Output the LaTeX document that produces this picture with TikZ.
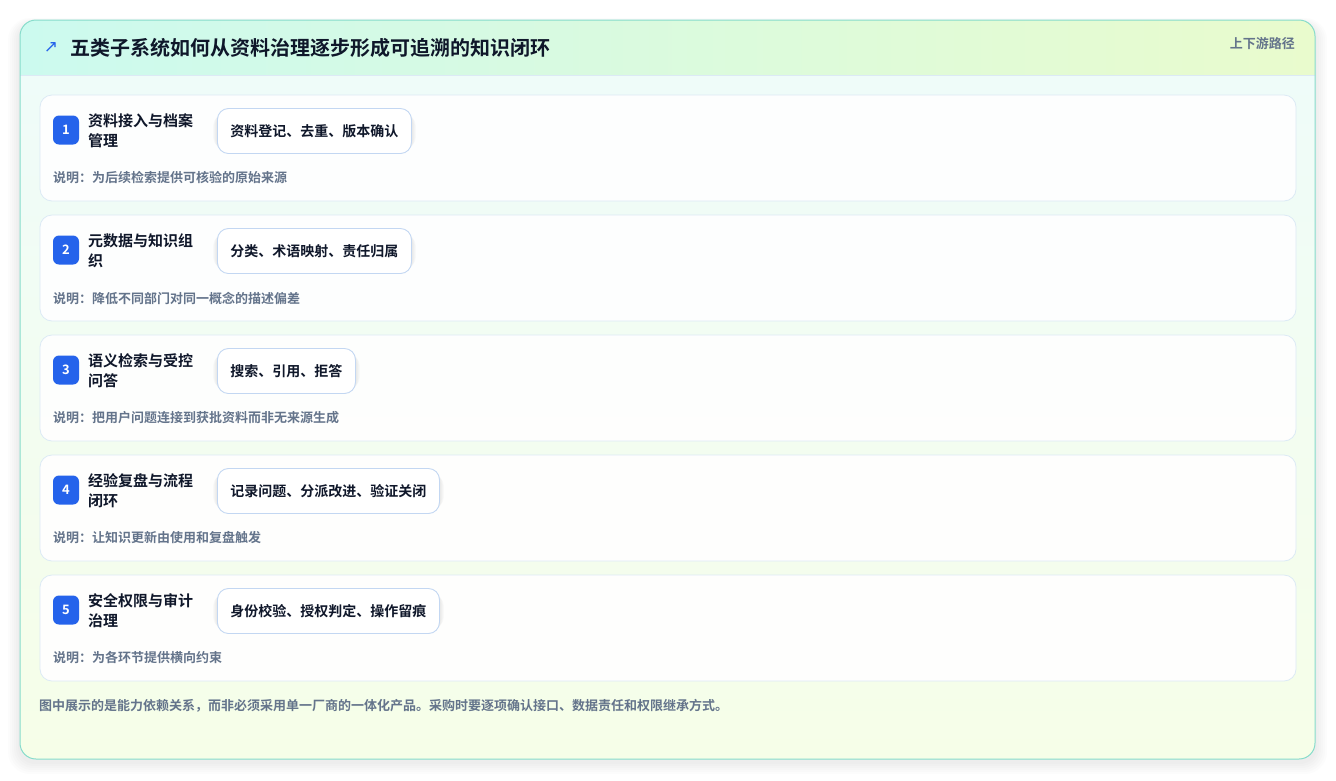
\documentclass[tikz,border=0pt]{standalone}
\usepackage{fontspec}
\setmainfont{Noto Sans CJK SC}[BoldFont={Noto Sans CJK SC Bold}]
\newfontfamily\djv{DejaVu Sans}
\definecolor{outerb}{HTML}{86DCCB}
\definecolor{hdrL}{HTML}{CCFAEF}
\definecolor{hdrR}{HTML}{E9FBCD}
\definecolor{bodyT}{HTML}{EFFCF9}
\definecolor{bodyB}{HTML}{F6FEE8}
\definecolor{rowb}{HTML}{DCEAF5}
\definecolor{chipb}{HTML}{C3D7F2}
\definecolor{badge}{HTML}{2563EB}
\definecolor{ink}{HTML}{0F172A}
\definecolor{muted}{HTML}{64748B}
\tikzset{
  rowcard/.style={draw=rowb, line width=0.8pt, fill=white, fill opacity=0.92, rounded corners=12pt},
  badgebox/.style={fill=badge, rounded corners=6pt, minimum width=26pt, minimum height=29pt, inner sep=0pt, text=white, font=\bfseries\fontsize{13}{15}\selectfont},
  ttl/.style={anchor=west, align=left, text width=115pt, inner sep=0pt, text=ink, font=\bfseries\fontsize{15}{20}\selectfont},
  chip/.style={draw=chipb, line width=0.9pt, fill=white, rounded corners=11pt, minimum height=45pt, inner xsep=13pt, text=ink, font=\bfseries\fontsize{14}{16}\selectfont},
  chipshadow/.style={fill=black, opacity=0.018, rounded corners=12pt},
  desc/.style={anchor=west, inner sep=0pt, text=muted, font=\bfseries\fontsize{13}{15}\selectfont},
}
\begin{document}
\begin{tikzpicture}[x=1pt,y=-1pt]
\useasboundingbox (0,0) rectangle (1336,780);
\fill[white] (0,0) rectangle (1336,780);
% outer shadow
\foreach \k in {1,...,6}{
  \fill[black, opacity=0.012, rounded corners=16pt+\k pt] (20-\k*2,20-\k+4) rectangle (1315+\k*2,759+\k*2+3);
}
% outer card body
\begin{scope}
\clip[rounded corners=16pt] (20,20) rectangle (1315,759);
\shade[top color=bodyT, bottom color=bodyB] (20,75) rectangle (1315,759);
\shade[left color=hdrL, right color=hdrR] (20,20) rectangle (1315,75);
\draw[rowb, line width=0.8pt] (20,75) -- (1315,75);
\end{scope}
\draw[outerb, line width=1pt, rounded corners=16pt] (20,20) rectangle (1315,759);
% header
\node[anchor=center, text=badge, font=\djv\fontsize{17}{19}\selectfont, inner sep=0pt] (arr) at (51,48) {↗};
\node[anchor=west, text=ink, font=\bfseries\fontsize{20}{24}\selectfont, inner sep=0pt] (title) at (70,48) {五类子系统如何从资料治理逐步形成可追溯的知识闭环};
\node[anchor=east, text=muted, font=\bfseries\fontsize{13}{15}\selectfont, inner sep=0pt] (path) at (1295,44) {上下游路径};
% rows
\foreach \i/\t/\c/\d in {
 1/{资料接入与档案\\管理}/{资料登记、去重、版本确认}/{说明：为后续检索提供可核验的原始来源},
 2/{元数据与知识组\\织}/{分类、术语映射、责任归属}/{说明：降低不同部门对同一概念的描述偏差},
 3/{语义检索与受控\\问答}/{搜索、引用、拒答}/{说明：把用户问题连接到获批资料而非无来源生成},
 4/{经验复盘与流程\\闭环}/{记录问题、分派改进、验证关闭}/{说明：让知识更新由使用和复盘触发},
 5/{安全权限与审计\\治理}/{身份校验、授权判定、操作留痕}/{说明：为各环节提供横向约束}}{
  \pgfmathsetmacro{\yy}{95+(\i-1)*120}
  \draw[rowcard] (40,\yy) rectangle (1296,\yy+106);
  \node[badgebox] (b\i) at (66,\yy+35) {\i};
  \node[ttl] (t\i) at (88,\yy+36) {\t};
  \node[chip, anchor=west, opacity=0] (cs\i) at (217,\yy+36) {\c};
  \foreach \s in {1,...,4}{
    \fill[chipshadow] ([xshift=-\s pt, yshift=-\s pt-2pt]cs\i.north west) rectangle ([xshift=\s pt, yshift=\s pt+1pt]cs\i.south east);
  }
  \node[chip, anchor=west] (c\i) at (217,\yy+36) {\c};
  \node[desc] (d\i) at (53,\yy+83) {\d};
}
\node[anchor=west, inner sep=0pt, text=muted, font=\bfseries\fontsize{13}{15}\selectfont] (foot) at (39,706) {图中展示的是能力依赖关系，而非必须采用单一厂商的一体化产品。采购时要逐项确认接口、数据责任和权限继承方式。};
\end{tikzpicture}
\end{document}
